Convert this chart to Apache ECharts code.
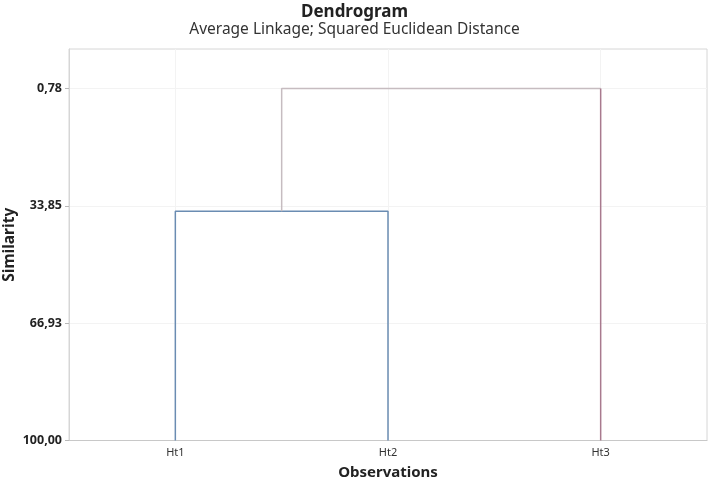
<!DOCTYPE html>
<html>
<head>
<meta charset="utf-8">
<script src="https://cdn.jsdelivr.net/npm/echarts@6/dist/echarts.min.js"></script>
<style>html,body{margin:0;padding:0;background:#fff}#c{width:709px;height:480px}</style>
</head>
<body>
<div id="c"></div>
<script>
const observations = ['Ht1', 'Ht2', 'Ht3'];
const leafSimilarity = 100;
const mergeSimilarity = [35.4, 0.78];   // Ht1+Ht2, then (Ht1,Ht2)+Ht3
const yTicks = [0.78, 33.85, 66.93, 100];
const xTicks = [0, 1, 2];

const FONT = 'Noto Sans';
const fmt = v => v.toFixed(2).replace('.', ',');

const m1 = mergeSimilarity[0], m2 = mergeSimilarity[1];
const blue = [[0, leafSimilarity], [0, m1], [1, m1], [1, leafSimilarity]];
const grey = [[0.5, m1], [0.5, m2], [2, m2]];
const mauve = [[2, m2], [2, leafSimilarity]];

const chart = echarts.init(document.getElementById('c'), null, {renderer: 'canvas'});
const lineSeries = (data, color) => ({
  type: 'line', data: data, symbol: 'none', silent: true, animation: false,
  lineStyle: {color: color, width: 1.5}
});
chart.setOption({
  backgroundColor: '#fff',
  animation: false,
  title: {
    text: 'Dendrogram',
    subtext: 'Average Linkage; Squared Euclidean Distance',
    left: 'center', top: -1, itemGap: 1,
    textStyle: {fontFamily: FONT, fontSize: 17, fontWeight: 'bold', color: '#222'},
    subtextStyle: {fontFamily: FONT, fontSize: 15.5, color: '#333'}
  },
  grid: {left: 69, right: 2, top: 49, bottom: 39.5, outerBoundsMode: 'none', containLabel: false,
    show: true, borderColor: '#d6d6d6', borderWidth: 1},
  xAxis: {
    type: 'value', min: -0.5, max: 2.5,
    name: 'Observations', nameLocation: 'middle', nameGap: 25, nameMoveOverlap: false,
    nameTextStyle: {fontFamily: FONT, fontSize: 15, fontWeight: 'bold', color: '#222'},
    axisLine: {show: true, onZero: false, lineStyle: {color: '#c8c8c8'}},
    axisTick: {show: false, customValues: xTicks},
    axisLabel: {customValues: xTicks, formatter: v => observations[v], fontFamily: FONT, fontSize: 11, color: '#333', margin: 7},
    splitLine: {show: true, customValues: xTicks, lineStyle: {color: '#f3f3f3'}}
  },
  yAxis: {
    type: 'value', inverse: true, min: -10.35, max: 100,
    name: 'Similarity', nameLocation: 'middle', nameGap: 51, nameRotate: 90, nameMoveOverlap: false,
    nameTextStyle: {fontFamily: FONT, fontSize: 15.5, fontWeight: 'bold', color: '#222'},
    axisLine: {show: true, onZero: false, lineStyle: {color: '#d6d6d6'}},
    axisTick: {show: true, customValues: yTicks, length: 4, lineStyle: {color: '#b8b8b8'}},
    axisLabel: {customValues: yTicks, formatter: fmt, fontFamily: FONT, fontSize: 12.5, fontWeight: 'bold', color: '#222', margin: 7},
    splitLine: {show: true, customValues: yTicks, lineStyle: {color: '#f3f3f3'}}
  },
  series: [
    lineSeries(blue, '#6a8cb2'),
    lineSeries(grey, '#c6bcc0'),
    lineSeries(mauve, '#a87a8e')
  ]
});
</script>
</body>
</html>
